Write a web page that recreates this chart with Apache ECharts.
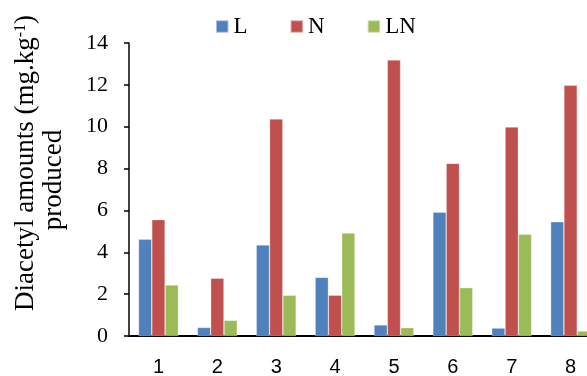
<!DOCTYPE html>
<html><head><meta charset="utf-8">
<script src="https://cdn.jsdelivr.net/npm/echarts@6/dist/echarts.min.js"></script>
<style>html,body{margin:0;padding:0;background:#fff}#c{width:587px;height:376px}</style>
</head><body><div id="c"></div>
<script>
const categories = ['1','2','3','4','5','6','7','8'];
const seriesL  = [4.62, 0.41, 4.35, 2.80, 0.53, 5.92, 0.38, 5.46];
const seriesN  = [5.56, 2.76, 10.37, 1.95, 13.19, 8.25, 9.99, 11.98];
const seriesLN = [2.44, 0.75, 1.95, 4.92, 0.40, 2.31, 4.87, 0.24];
const seriesNames = ['L','N','LN'];
const colors = ['#4F81BD','#C0504D','#9BBB59'];

const chart = echarts.init(document.getElementById('c'));
const serif = '"Liberation Serif", "DejaVu Serif", serif';
const mk = (name, data, i) => ({
  name, type: 'bar', data, barWidth: 13.3, barGap: '0%',
  itemStyle: { color: colors[i], borderColor: 'rgba(255,255,255,0.5)', borderWidth: 0.6 }
});
chart.setOption({
  animation: false,
  color: colors,
  legend: {
    left: 210, top: 10, itemWidth: 12.5, itemHeight: 12.5, itemGap: 42,
    icon: 'rect',
    textStyle: { fontFamily: serif, fontSize: 23, color: '#000' },
    data: seriesNames
  },
  grid: { left: 129, width: 471, top: 43, bottom: 40, outerBoundsMode: 'none', containLabel: false },
  xAxis: {
    type: 'category', data: categories,
    axisLine: { lineStyle: { color: '#000', width: 2 } },
    axisTick: { show: false },
    axisLabel: { fontFamily: '"Liberation Sans", Arial, sans-serif', fontSize: 20, color: '#000', margin: 21 }
  },
  yAxis: {
    type: 'value', min: 0, max: 14, interval: 2,
    splitLine: { show: false },
    axisLine: { show: true, lineStyle: { color: '#000', width: 1.5 } },
    axisTick: { show: true, length: 5, lineStyle: { color: '#000', width: 1.5 } },
    axisLabel: { fontFamily: serif, fontSize: 22, color: '#000', margin: 21 }
  },
  graphic: [
    { type: 'text', x: 26, y: 163, rotation: Math.PI/2,
      style: { rich: { a: { fontFamily: serif, fontSize: 27, fill: '#000' }, s: { fontFamily: serif, fontSize: 16, fill: '#000', verticalAlign: 'top', padding:[0,0,10,0] } },
        text: '{a|Diacetyl amounts (mg.kg}{s|-1}{a|)}', align: 'center', verticalAlign: 'middle' } },
    { type: 'text', x: 54, y: 180, rotation: Math.PI/2,
      style: { text: 'produced', fontFamily: serif, fontSize: 27, fill: '#000', align: 'center', verticalAlign: 'middle' } }
  ],
  series: [mk('L', seriesL, 0), mk('N', seriesN, 1), mk('LN', seriesLN, 2)]
});
</script></body></html>
